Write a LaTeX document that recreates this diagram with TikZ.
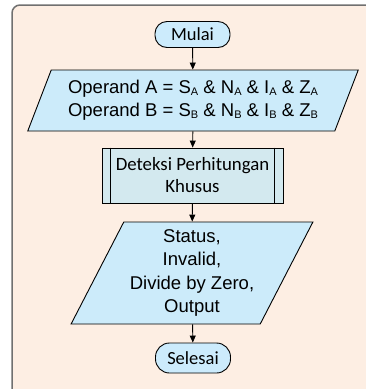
\documentclass[tikz,border=0pt]{standalone}
\usepackage{fontspec}
\setmainfont{Liberation Sans}
\newfontfamily\calfont{Carlito}
\usetikzlibrary{shapes.geometric,arrows.meta}
\definecolor{panelfill}{HTML}{FDEEE3}
\definecolor{panelline}{HTML}{707070}
\definecolor{iofill}{HTML}{CCEBFA}
\definecolor{termfill}{HTML}{CCEBFC}
\definecolor{procfill}{HTML}{D3E9EF}
\newcommand{\lowidx}[1]{\raisebox{-1.5pt}{\fontsize{11}{11}\selectfont #1}}
\tikzset{
  termbox/.style={draw=black, line width=0.9pt, fill=termfill, rounded corners=12pt,
    minimum width=75pt, font=\calfont\fontsize{18.5}{22}\selectfont, inner sep=0pt},
  iobox/.style={draw=black, line width=0.9pt, fill=iofill, trapezium, trapezium stretches=true,
    align=center, inner sep=0pt, font=\fontsize{18.5}{23.3}\selectfont},
  procbox/.style={draw=black, line width=0.9pt, fill=procfill, minimum width=181pt,
    minimum height=55pt, align=center, inner sep=0pt, font=\calfont\fontsize{18.8}{22}\selectfont},
  flow/.style={draw=black, line width=0.9pt, -{Triangle[length=7pt,width=6pt]}}
}
\begin{document}
\begin{tikzpicture}[x=1pt, y=-1pt]
  \useasboundingbox (0,0) rectangle (366,389);
  % panel behind the chart, running off the right and bottom edges
  \begin{scope}
    \clip (0,0) rectangle (366,389);
    \draw[panelline, fill=panelfill, line width=1.5pt, rounded corners=8pt]
      (12,5) rectangle (385,400);
  \end{scope}

  \node[termbox, minimum height=26pt] (mulai) at (192.5,34.5) {Mulai};

  \node[iobox, minimum width=332pt, minimum height=61pt,
        trapezium left angle=63, trapezium right angle=117] (input) at (193,100.5)
    {Operand A = S\lowidx{A} \& N\lowidx{A} \& I\lowidx{A} \& Z\lowidx{A}\\
     Operand B = S\lowidx{B} \& N\lowidx{B} \& I\lowidx{B} \& Z\lowidx{B}};

  \node[procbox] (deteksi) at (192.5,175.5) {Deteksi Perhitungan\\Khusus};
  \draw[line width=0.9pt] ([xshift=9pt]deteksi.north west) -- ([xshift=9pt]deteksi.south west)
                          ([xshift=-9pt]deteksi.north east) -- ([xshift=-9pt]deteksi.south east);

  \node[iobox, minimum width=242pt, minimum height=102pt,
        trapezium left angle=61, trapezium right angle=119] (output) at (192,273)
    {Status,\\Invalid,\\Divide by Zero,\\Output};

  \node[termbox, minimum height=30pt, rounded corners=14pt] (selesai) at (193,358) {Selesai};

  \draw[flow] (mulai) -- (input);
  \draw[flow] (input) -- (deteksi);
  \draw[flow] (deteksi) -- (output);
  \draw[flow] (output) -- (selesai);
\end{tikzpicture}
\end{document}
